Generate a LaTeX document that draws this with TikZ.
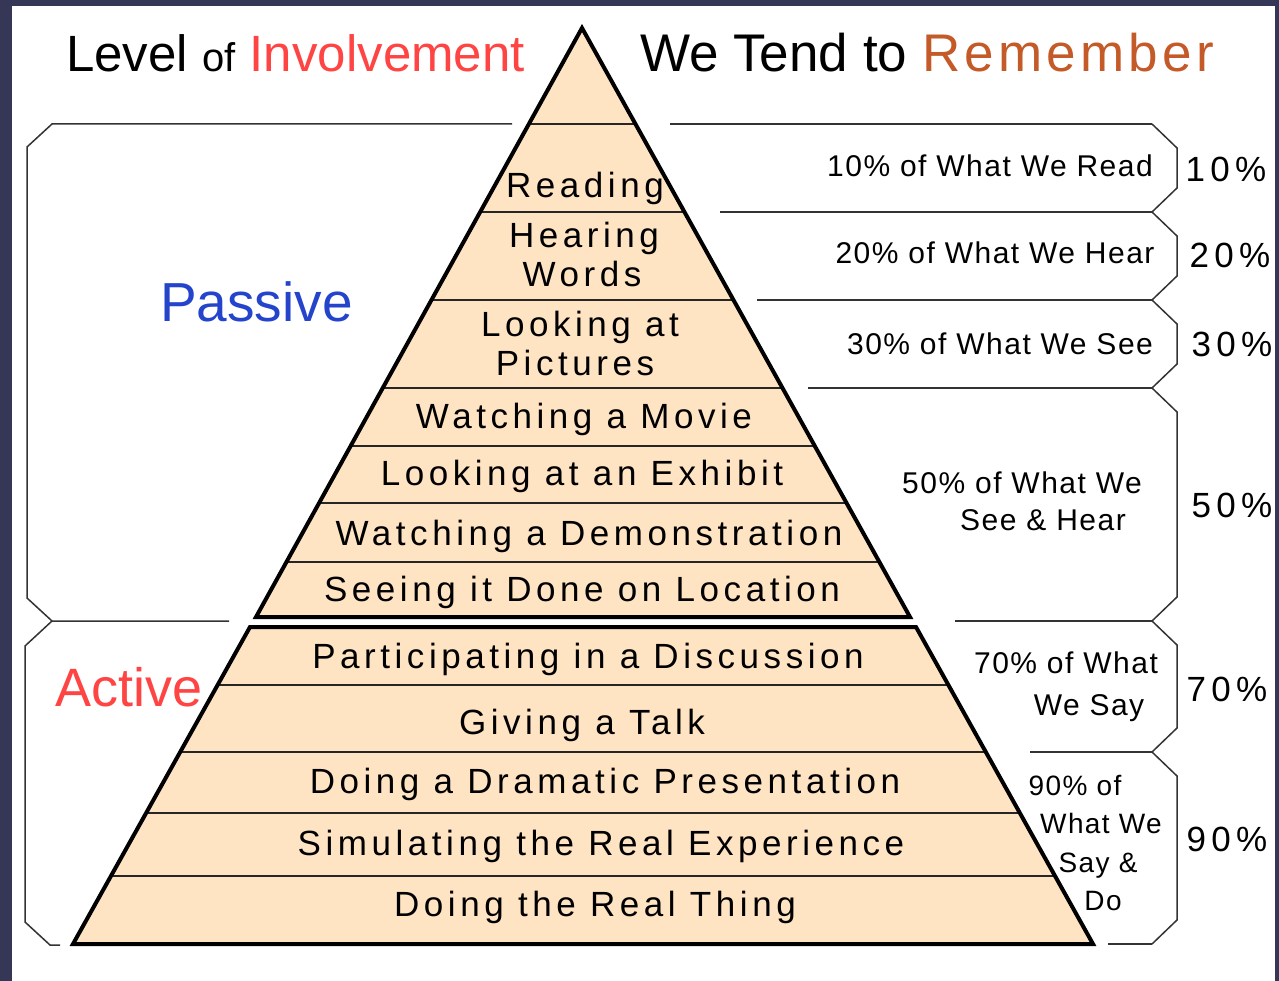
\documentclass[tikz,border=0pt]{standalone}
\usepackage{fontspec}
\setmainfont{Liberation Sans}
\newfontfamily\pyrfont[LetterSpace=13]{Liberation Sans}
\newfontfamily\pctfont[LetterSpace=15]{Liberation Sans}
\newfontfamily\remfont[LetterSpace=8]{Liberation Sans}
\newfontfamily\rfont[LetterSpace=5]{Liberation Sans}
\definecolor{peach}{RGB}{255,228,196}
\definecolor{frame}{RGB}{54,54,86}
\definecolor{invred}{RGB}{255,68,68}
\definecolor{remorange}{RGB}{196,90,40}
\definecolor{passblue}{RGB}{36,68,204}
\begin{document}
\begin{tikzpicture}[x=1pt,y=-1pt,
  pyrtext/.style={anchor=base,inner sep=0pt,font=\pyrfont\fontsize{35}{40}\selectfont},
  rtext/.style={anchor=base,inner sep=0pt,font=\rfont\fontsize{30}{34}\selectfont},
  r9text/.style={anchor=base,inner sep=0pt,font=\rfont\fontsize{28}{32}\selectfont},
  pct/.style={anchor=base,inner sep=0pt,font=\pctfont\fontsize{35}{40}\selectfont},
  bigtext/.style={anchor=base west,inner sep=0pt},
  brk/.style={draw=black!80,line width=1.5pt,line join=miter},
  outline/.style={draw=black,line width=4pt,line join=miter},
  rowline/.style={draw=black!85,line width=1.6pt}]
\useasboundingbox (0,0) rectangle (1279,981);
\fill[frame] (0,0) rectangle (1279,981);
\fill[white] (12,6) rectangle (1275,981);

% pyramid corner coordinates
\coordinate (apex) at (582,28);
\coordinate (ubl) at (256,617);
\coordinate (ubr) at (910,617);
\coordinate (ltl) at (250,627);
\coordinate (ltr) at (916,627);
\coordinate (bl) at (73,944);
\coordinate (br) at (1093,944);

% upper (passive) part
\fill[peach] (apex) -- (ubr) -- (ubl) -- cycle;
\begin{scope}
\clip (apex) -- (ubr) -- (ubl) -- cycle;
\foreach \y in {124,212,300,388,446,503,562}
  \draw[rowline] (0,\y) -- (1279,\y);
\end{scope}
\draw[outline] (apex) -- (ubr) -- (ubl) -- cycle;

% lower (active) part
\fill[peach] (ltl) -- (ltr) -- (br) -- (bl) -- cycle;
\begin{scope}
\clip (ltl) -- (ltr) -- (br) -- (bl) -- cycle;
\foreach \y in {685,752,813,876}
  \draw[rowline] (0,\y) -- (1279,\y);
\end{scope}
\draw[outline] (ltl) -- (ltr) -- (br) -- (bl) -- cycle;

% left brackets
\coordinate (pa1) at (512,124);
\coordinate (pa2) at (229,621);
\coordinate (ac2) at (60,945);
\draw[brk] (pa1) -- (52,124) -- (27,147) -- (27,598) -- (52,621) -- (pa2);
\draw[brk] (52,621) -- (25,646) -- (25,922) -- (50,945) -- (ac2);

% right brackets
\coordinate (s1) at (670,124);
\coordinate (s2) at (720,212);
\coordinate (s3) at (757,300);
\coordinate (s4) at (808,388);
\coordinate (s5) at (955,621);
\coordinate (s6) at (1030,752);
\coordinate (s7) at (1108,944);
\draw[brk] (s1) -- (1152,124);
\draw[brk] (s2) -- (1152,212);
\draw[brk] (s3) -- (1152,300);
\draw[brk] (s4) -- (1152,388);
\draw[brk] (s5) -- (1152,621);
\draw[brk] (s6) -- (1152,752);
\draw[brk] (s7) -- (1152,944);
\draw[brk] (1152,124) -- (1177,148) -- (1177,188) -- (1152,212)
  -- (1177,236) -- (1177,276) -- (1152,300)
  -- (1177,324) -- (1177,364) -- (1152,388)
  -- (1177,412) -- (1177,597) -- (1152,621)
  -- (1177,645) -- (1177,728) -- (1152,752)
  -- (1177,776) -- (1177,920) -- (1152,944);

% titles
\node[bigtext,font=\fontsize{51}{56}\selectfont] (tleft) at (66,72)
  {Level {\fontsize{40}{42}\selectfont of} \textcolor{invred}{Involvement}};
\node[bigtext,font=\fontsize{53}{58}\selectfont] (tright) at (640,72)
  {We Tend to \textcolor{remorange}{\remfont Remember}};
\node[bigtext,font=\fontsize{55}{60}\selectfont,text=passblue] (passive) at (160,322) {Passive};
\node[bigtext,font=\fontsize{54}{60}\selectfont,text=invred] (active) at (55,706) {Active};

% pyramid texts
\node[pyrtext] (p1) at (585,198) {Reading};
\node[pyrtext] (p2a) at (584,248) {Hearing};
\node[pyrtext] (p2b) at (582,287) {Words};
\node[pyrtext] (p3a) at (580,337) {Looking at};
\node[pyrtext] (p3b) at (575,375) {Pictures};
\node[pyrtext] (p4) at (584,428) {Watching a Movie};
\node[pyrtext] (p5) at (582,485) {Looking at an Exhibit};
\node[pyrtext] (p6) at (589,545) {Watching a Demonstration};
\node[pyrtext] (p7) at (582,601) {Seeing it Done on Location};
\node[pyrtext] (p8) at (588,668) {Participating in a Discussion};
\node[pyrtext] (p9) at (582,734) {Giving a Talk};
\node[pyrtext] (p10) at (605,793) {Doing a Dramatic Presentation};
\node[pyrtext] (p11) at (601,855) {Simulating the Real Experience};
\node[pyrtext] (p12) at (595,916) {Doing the Real Thing};

% right texts
\node[rtext] (r10) at (990,177) {10\% of What We Read};
\node[rtext] (r20) at (995,264) {20\% of What We Hear};
\node[rtext] (r30) at (1000,354) {30\% of What We See};
\node[rtext] (r50a) at (1022,493) {50\% of What We};
\node[rtext] (r50b) at (1043,530) {See \& Hear};
\node[rtext] (r70a) at (1066,673) {70\% of What};
\node[rtext] (r70b) at (1089,715) {We Say};
\node[r9text] (r90a) at (1075,795) {90\% of};
\node[r9text] (r90b) at (1101,833) {What We};
\node[r9text] (r90c) at (1098,872) {Say \&};
\node[r9text] (r90d) at (1103,910) {Do};

% percentages
\node[pct] (q10) at (1226,182) {10\%};
\node[pct] (q20) at (1230,268) {20\%};
\node[pct] (q30) at (1232,356) {30\%};
\node[pct] (q50) at (1232,517) {50\%};
\node[pct] (q70) at (1227,701) {70\%};
\node[pct] (q90) at (1227,851) {90\%};
\end{tikzpicture}
\end{document}
